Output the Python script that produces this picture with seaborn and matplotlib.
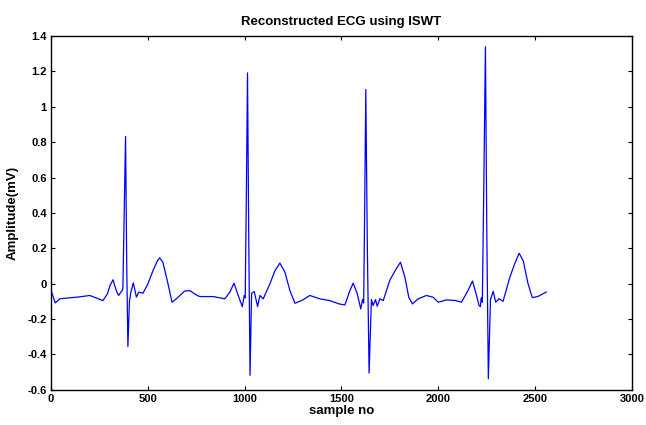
import matplotlib
matplotlib.use("Agg")
import matplotlib.pyplot as plt
import seaborn as sns
import pandas as pd

# Traced ECG vertices (sample number, amplitude in mV)
sample_no = [0, 22, 45, 88, 139, 200, 234, 268, 291, 305, 320, 337, 349, 367, 371, 378, 385, 391, 397, 405,
             412, 425, 441, 453, 475, 501, 527, 550, 561, 578, 604, 625, 647, 690, 716, 755, 769, 838, 898,
             924, 945, 967, 988, 998, 1003, 1009, 1015, 1021, 1028, 1036, 1050, 1067, 1079, 1096, 1131, 1156,
             1182, 1208, 1234, 1260, 1294, 1337, 1389, 1440, 1489, 1518, 1544, 1561, 1582, 1600, 1609, 1615,
             1620, 1626, 1634, 1643, 1655, 1664, 1676, 1685, 1699, 1716, 1750, 1781, 1805, 1828, 1848, 1867,
             1896, 1939, 1974, 2000, 2043, 2086, 2120, 2154, 2177, 2198, 2211, 2218, 2222, 2228, 2236, 2244,
             2251, 2259, 2270, 2284, 2297, 2314, 2335, 2370, 2395, 2418, 2439, 2464, 2486, 2516, 2559]
amplitude = [-0.039, -0.109, -0.086, -0.081, -0.076, -0.067, -0.081, -0.096, -0.058, -0.01, 0.022, -0.039,
             -0.067, -0.039, -0.03, 0.40, 0.833, 0.10, -0.356, -0.10, -0.05, 0.004, -0.076, -0.048, -0.054,
             0.0, 0.075, 0.13, 0.146, 0.121, 0.0, -0.105, -0.086, -0.042, -0.039, -0.067, -0.073, -0.073,
             -0.086, -0.048, 0.003, -0.067, -0.13, -0.067, -0.08, 0.50, 1.192, 0.30, -0.518, -0.054, -0.045,
             -0.13, -0.067, -0.086, 0.0, 0.072, 0.116, 0.065, -0.039, -0.111, -0.096, -0.067, -0.086, -0.096,
             -0.115, -0.12, -0.039, 0.003, -0.058, -0.143, -0.09, -0.11, 0.40, 1.098, 0.20, -0.506, -0.09,
             -0.124, -0.09, -0.128, -0.085, -0.096, 0.019, 0.08, 0.121, 0.036, -0.077, -0.115, -0.086, -0.067,
             -0.077, -0.105, -0.092, -0.095, -0.105, -0.039, 0.015, -0.067, -0.124, -0.13, -0.08, -0.105, 0.60,
             1.34, 0.30, -0.538, -0.09, -0.043, -0.105, -0.085, -0.10, 0.036, 0.112, 0.172, 0.13, 0.0, -0.079,
             -0.072, -0.047]

x_ticks = [0, 500, 1000, 1500, 2000, 2500, 3000]
y_ticks = [-0.6, -0.4, -0.2, 0, 0.2, 0.4, 0.6, 0.8, 1.0, 1.2, 1.4]
y_tick_labels = ["-0.6", "-0.4", "-0.2", "0", "0.2", "0.4", "0.6", "0.8", "1", "1.2", "1.4"]

sns.set_style("ticks")
plt.rcParams['font.family'] = ['Liberation Sans', 'DejaVu Sans']
plt.rcParams['text.color'] = 'black'
plt.rcParams['axes.labelcolor'] = 'black'

df = pd.DataFrame({"sample": sample_no, "amp": amplitude})

fig = plt.figure(figsize=(6.46, 4.25), dpi=100)
ax = fig.add_axes([0.079, 0.083, 0.899, 0.832])
sns.lineplot(data=df, x="sample", y="amp", ax=ax, color="#0000ff", linewidth=0.9, sort=False)

ax.set_xlim(0, 3000)
ax.set_ylim(-0.6, 1.4)
ax.set_xticks(x_ticks)
ax.set_xticklabels([str(t) for t in x_ticks])
ax.set_yticks(y_ticks)
ax.set_yticklabels(y_tick_labels)
for lbl in ax.get_xticklabels() + ax.get_yticklabels():
    lbl.set_fontweight("bold")
    lbl.set_fontsize(8)
ax.tick_params(direction="in", top=True, right=True, length=3, width=0.8, pad=3, colors="black")
for s in ax.spines.values():
    s.set_visible(True)
    s.set_linewidth(1.0)
    s.set_color("black")

ax.set_title("Reconstructed ECG using ISWT", fontsize=9.5, fontweight="bold", pad=8, color="black")
ax.set_xlabel("sample no", fontsize=9.5, fontweight="bold", labelpad=1, color="black")
ax.set_ylabel("Amplitude(mV)", fontsize=9.5, fontweight="bold", labelpad=6, color="black")

fig.savefig("out.png", dpi=100)
